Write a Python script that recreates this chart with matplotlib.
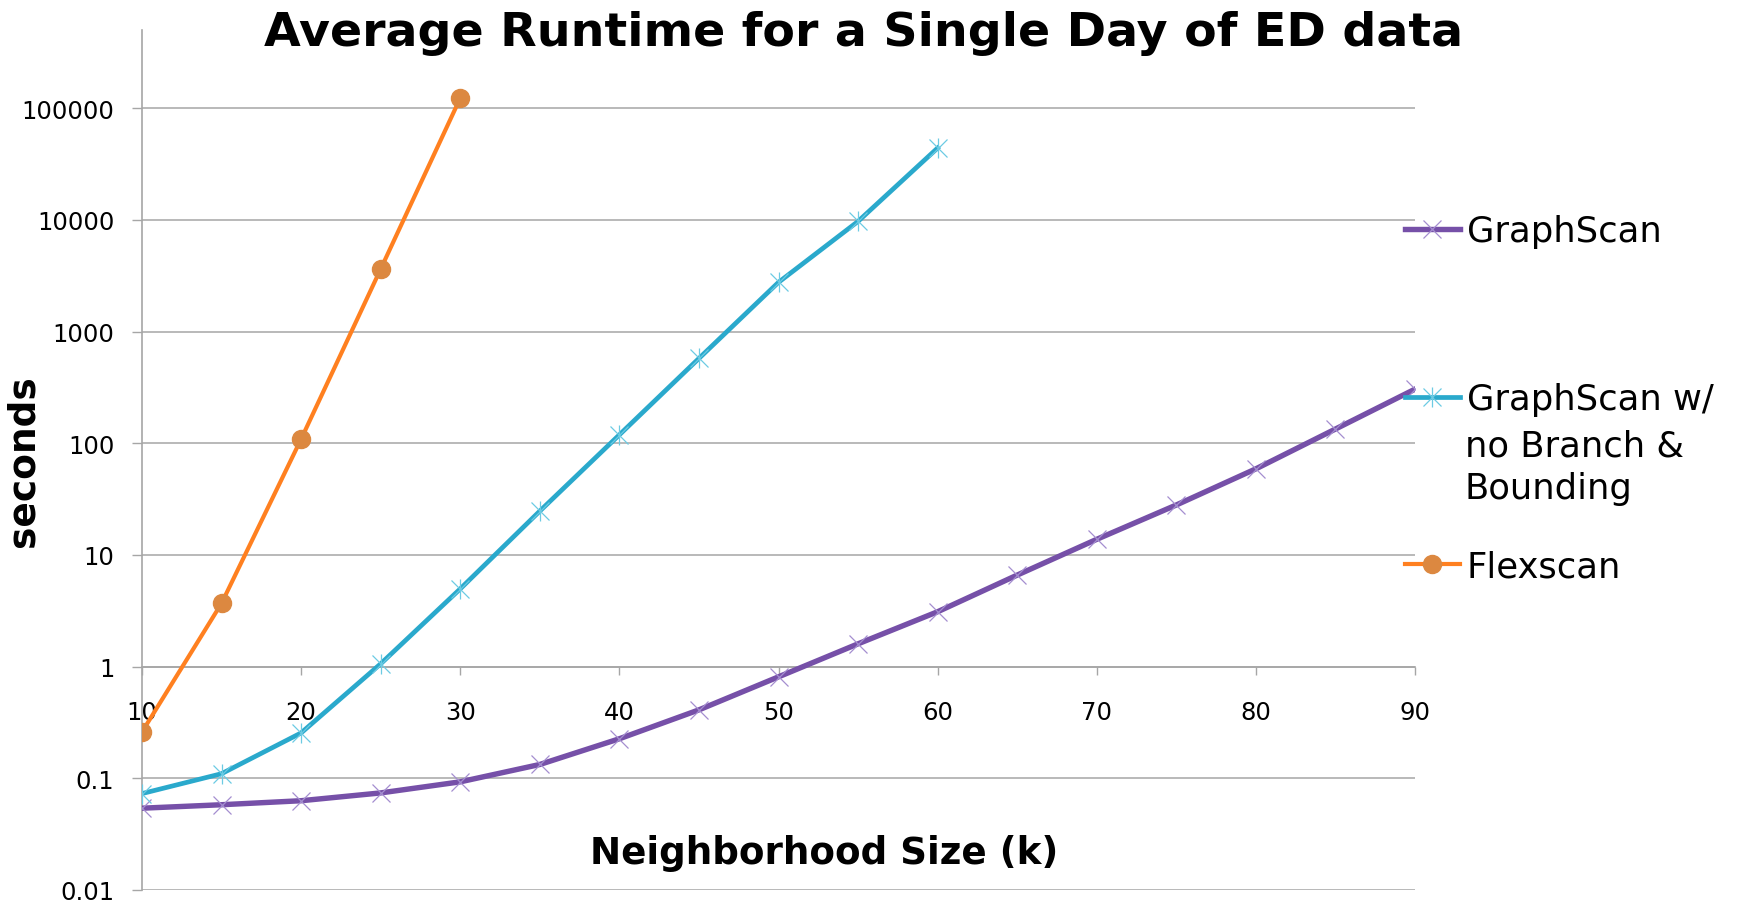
import matplotlib
matplotlib.use("Agg")
import matplotlib.pyplot as plt
from matplotlib.ticker import FixedLocator, FixedFormatter

# neighborhood sizes and runtimes (seconds)
k_graphscan = [10, 15, 20, 25, 30, 35, 40, 45, 50, 55, 60, 65, 70, 75, 80, 85, 90]
t_graphscan = [0.054, 0.058, 0.063, 0.074, 0.093, 0.133, 0.226, 0.41, 0.81, 1.6,
               3.1, 6.6, 13.8, 28, 59, 134, 305]

k_nobb = [10, 15, 20, 25, 30, 35, 40, 45, 50, 55, 60]
t_nobb = [0.073, 0.11, 0.255, 1.06, 4.97, 24.7, 119, 575, 2760, 9700, 44000]

k_flex = [10, 15, 20, 25, 30]
t_flex = [0.26, 3.69, 109, 3630, 123000]

y_ticks = [0.01, 0.1, 1, 10, 100, 1000, 10000, 100000]
y_labels = ["0.01", "0.1", "1", "10", "100", "1000", "10000", "100000"]
x_ticks = [10, 20, 30, 40, 50, 60, 70, 80, 90]

purple, purple_mk = "#7650a8", "#a48ed0"
cyan, cyan_mk = "#2aa9cc", "#6ccbe3"
orange, orange_mk = "#ff8020", "#dc8840"
grid_c = "#a6a6a6"

W, H = 1743, 903
fig = plt.figure(figsize=(W / 100, H / 100), dpi=100)
x0, x1, y_top, y_bot = 142, 1415, 31, 891
ax = fig.add_axes([x0 / W, 1 - y_bot / H, (x1 - x0) / W, (y_bot - y_top) / H])

l1, = ax.plot(k_graphscan, t_graphscan, color=purple, lw=3.9, marker="x",
              ms=13, mew=0.9, mec=purple_mk, zorder=3)
l2, = ax.plot(k_nobb, t_nobb, color=cyan, lw=3.4, marker="x",
              ms=13, mew=0.9, mec=cyan_mk, zorder=4)
l2b, = ax.plot(k_nobb, t_nobb, ls="none", marker="|",
               ms=15, mew=0.9, mec=cyan_mk, zorder=4)
l3, = ax.plot(k_flex, t_flex, color=orange, lw=3.0, marker="o",
              ms=13, mfc=orange_mk, mec=orange_mk, zorder=5)

ax.set_yscale("log")
ax.set_ylim(0.01, 10 ** 5.7)
ax.set_xlim(10, 90)
ax.yaxis.set_major_locator(FixedLocator(y_ticks))
ax.yaxis.set_major_formatter(FixedFormatter(y_labels))
ax.yaxis.set_minor_locator(FixedLocator([]))
ax.set_xticks(x_ticks)
ax.set_xticklabels([str(v) for v in x_ticks])

ax.grid(axis="y", color=grid_c, lw=1.1)
ax.set_axisbelow(True)
for s in ["top", "right"]:
    ax.spines[s].set_visible(False)
ax.spines["left"].set_color(grid_c)
ax.spines["left"].set_linewidth(1.2)
ax.spines["bottom"].set_position(("data", 1))
ax.spines["bottom"].set_color(grid_c)
ax.spines["bottom"].set_linewidth(1.2)

ax.tick_params(axis="y", direction="out", length=7, width=1, color=grid_c,
               labelsize=17.5, pad=13)
ax.tick_params(axis="x", direction="out", length=6, width=1, color=grid_c,
               labelsize=17.5, pad=18)

ax.set_xlabel("Neighborhood Size (k)", fontsize=26.8, fontweight="bold")
ax.xaxis.label.set_va("center")
ax.xaxis.set_label_coords((824 - x0) / (x1 - x0), (y_bot - 854) / (y_bot - y_top))
ax.set_ylabel("seconds", fontsize=27, fontweight="bold")
ax.yaxis.label.set_va("center")
ax.yaxis.set_label_coords((24 - x0) / (x1 - x0), 0.5)

fig.text(864 / W, 1 - 33 / H, "Average Runtime for a Single Day of ED data",
         fontsize=34.2, fontweight="bold", ha="center", va="center")

# legend entries on the right
leg_kw = dict(frameon=False, fontsize=25.5, handlelength=1.55, handletextpad=0.2,
              borderpad=0, borderaxespad=0, loc="center left")
fig.legend([l1], ["GraphScan"], bbox_to_anchor=(1405 / W, 1 - 232 / H), **leg_kw)
fig.legend([(l2, l2b)], ["GraphScan w/"], bbox_to_anchor=(1405 / W, 1 - 400 / H), **leg_kw)
fig.legend([l3], ["Flexscan"], bbox_to_anchor=(1405 / W, 1 - 567 / H), **leg_kw)
fig.text(1465 / W, 1 - 467.5 / H, "no Branch &\nBounding", fontsize=25.5,
         ha="left", va="center", linespacing=1.3)

fig.savefig("out.png", dpi=100)
